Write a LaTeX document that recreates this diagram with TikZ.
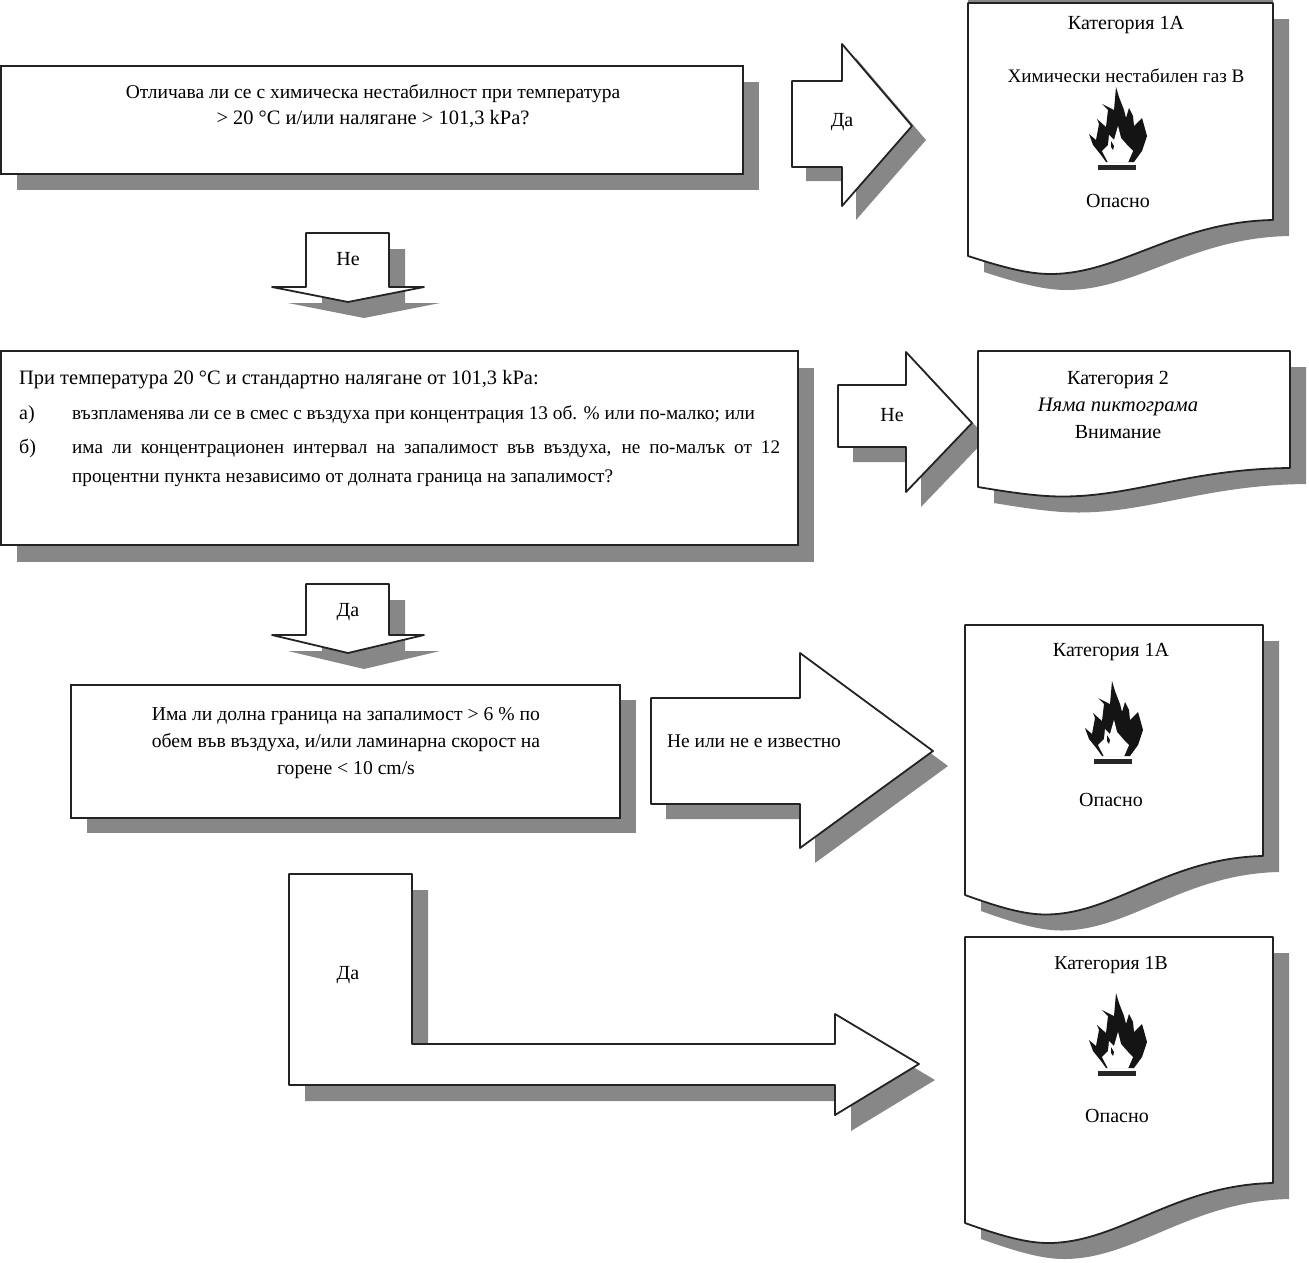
\documentclass[tikz,border=0pt]{standalone}
\usepackage{fontspec}
\setmainfont{Liberation Serif}
\definecolor{shadowgray}{RGB}{135,135,135}
\definecolor{inkline}{RGB}{35,35,35}
\tikzset{
  x=1pt,y=-1pt,
  shadowfill/.style={fill=shadowgray,draw=none},
  shapeline/.style={draw=inkline,line width=1.8pt,fill=white,line join=round},
  label/.style={inner sep=0pt,align=center,font=\fontsize{20}{27}\selectfont,text=black},
  fsz/.style 2 args={font=\fontsize{#1}{#2}\selectfont},
  boxnode/.style={draw=inkline,line width=1.8pt,fill=white,inner sep=0pt,outer sep=0pt,anchor=north west},
  boxshadow/.style={fill=shadowgray,inner sep=0pt,outer sep=0pt,anchor=north west},
  flameink/.style={fill=black!92,draw=none},
}
\newcommand{\docshape}[5]{% x1 ytop x2 yleft yright
  \pgfmathsetmacro{\wdd}{#3-#1}\pgfmathsetmacro{\hdd}{#4-#5}
  \pgfmathsetmacro{\cax}{#1+0.68*\wdd}\pgfmathsetmacro{\cay}{#5+0.05*\hdd}
  \pgfmathsetmacro{\cbx}{#1+0.5*\wdd}\pgfmathsetmacro{\cby}{#5+1.5*\hdd}
  \pgfmathsetmacro{\tx}{#1+0.27*\wdd}
  \pgfmathsetmacro{\ccx}{#1+0.2*\wdd}
  \pgfmathsetmacro{\cdx}{#1+0.12*\wdd}\pgfmathsetmacro{\cdy}{#5+1.33*\hdd}
  \fill[shadowfill,shift={(16,16)}] (#1,#2) -- (#3,#2) -- (#3,#5)
  .. controls (\cax,\cay) and (\cbx,\cby) .. (\tx,\cby)
  .. controls (\ccx,\cby) and (\cdx,\cdy) .. (#1,#4) -- cycle;
  \draw[shapeline] (#1,#2) -- (#3,#2) -- (#3,#5)
  .. controls (\cax,\cay) and (\cbx,\cby) .. (\tx,\cby)
  .. controls (\ccx,\cby) and (\cdx,\cdy) .. (#1,#4) -- cycle;}
\newcommand{\flame}[2]{%
  \begin{scope}[shift={(#1,#2)}]
   \fill[flameink] (-11,-5) -- (-16,-12) -- (-24,-22) -- (-28,-33) -- (-21,-27) -- (-18,-43) -- (-20,-48) -- (-11,-40) -- (-9,-57) -- (-15,-63) -- (-3,-57) -- (-1,-80) -- (2,-70) -- (7,-57) -- (9,-49) -- (12,-59) -- (16,-51) -- (17,-41) -- (25,-49) -- (27,-42) -- (30,-31) -- (25,-16) -- (17,-5) -- cycle;
   \fill[white] (-9,-4.5) -- (-15,-16) -- (-9,-22) -- (-8,-32) -- (-3,-27) -- (1,-41) -- (4,-29) -- (11,-21) -- (16,-16) -- (11,-4.5) -- cycle;
   \fill[flameink] (-6,-26) -- (-3,-21) -- (-4,-17) -- (-6,-20) -- cycle;
   \fill[black!85] (-19,-2) rectangle (19,3);
  \end{scope}}
\newcommand{\blockarrow}[2]{% shadow offset, path
  \fill[shadowfill,shift={(#1,#1)}] #2 -- cycle;
  \draw[shapeline] #2 -- cycle;}
\begin{document}
\begin{tikzpicture}
\useasboundingbox (0,0) rectangle (1309,1262);
% question boxes
\node[boxshadow,minimum width=742pt,minimum height=108pt] (q1s) at (17,82) {};
\node[boxnode,minimum width=742pt,minimum height=108pt] (q1) at (1,66) {};
\node[label,fsz={19.5}{26}] (q1t) at (373,106) {Отличава ли се с химическа нестабилност при температура\\{\fontsize{20.45}{26}\selectfont > 20 °C и/или налягане > 101,3 kPa?}};
\node[boxshadow,minimum width=797pt,minimum height=194pt] (q2s) at (17,368) {};
\node[boxnode,minimum width=797pt,minimum height=194pt] (q2) at (1,351) {};
\node[label,anchor=west,fsz={20.45}{27}] (q2a) at (19,380) {При температура 20 °C и стандартно налягане от 101,3 kPa:};
\node[label,anchor=west] (q2b) at (19,415) {а)};
\node[label,anchor=west,fsz={19.3}{27}] (q2c) at (72,415) {възпламенява ли се в смес с въздуха при концентрация 13 об. \% или по-малко; или};
\node[label,anchor=west] (q2d) at (19,448) {б)};
\node[label,anchor=north west,text width=708pt,align=justify,fsz={19.2}{29}] (q2e) at (72,441) {има ли концентрационен интервал на запалимост във въздуха, не по-малък от 12 процентни пункта независимо от долната граница на запалимост?};
\node[boxshadow,minimum width=549pt,minimum height=133pt] (q3s) at (87,700) {};
\node[boxnode,minimum width=549pt,minimum height=133pt] (q3) at (71,685) {};
\node[label,fsz={19.65}{27}] (q3t) at (346,743) {Има ли долна граница на запалимост > 6 \% по\\обем във въздуха, и/или ламинарна скорост на\\горене < 10 cm/s};
% block arrows
\blockarrow{14}{(792,81) -- (842,81) -- (842,44) -- (912,126) -- (842,206) -- (842,167) -- (792,167)}
\node[label] (a1) at (842,122) {Да};
\blockarrow{15}{(838,385) -- (906,385) -- (906,352) -- (972,423) -- (906,492) -- (906,447) -- (838,447)}
\node[label] (a2) at (892,415) {Не};
\blockarrow{15}{(651,698) -- (800,698) -- (800,653) -- (933,751) -- (800,848) -- (800,804) -- (651,804)}
\node[label,fsz={19.45}{27}] (a3) at (754,741) {Не или не е известно};
\blockarrow{16}{(306,233) -- (389,233) -- (389,287) -- (424,287) -- (348,302) -- (272,287) -- (306,287)}
\node[label] (d1) at (348,259) {Не};
\blockarrow{16}{(306,584) -- (389,584) -- (389,635) -- (424,635) -- (348,653) -- (272,635) -- (306,635)}
\node[label] (d2) at (348,612) {Да};
\blockarrow{16}{(289,874) -- (412,874) -- (412,1044) -- (835,1044) -- (835,1014) -- (919,1064) -- (835,1115) -- (835,1085) -- (289,1085) }
\node[label] (b1) at (348,975) {Да};
% documents
\fill[shadowgray] (968,0) rectangle (1273,3);
\docshape{968}{3}{1273}{256}{220}
\node[label] (c1) at (1126,25) {Категория 1А};
\node[label,fsz={19.1}{27}] (c1b) at (1126,76) {Химически нестабилен газ B};
\flame{1117}{167}
\node[label] (c1c) at (1118,201) {Опасно};
\docshape{978}{351}{1290}{487}{468}
\node[label] (c2) at (1118,380) {Категория 2};
\node[label,fsz={20.6}{27}] (c2b) at (1118,407) {\itshape Няма пиктограма};
\node[label] (c2c) at (1118,432) {Внимание};
\docshape{965}{625}{1263}{895}{856}
\node[label] (c3) at (1111,652) {Категория 1А};
\flame{1113}{761}
\node[label] (c3c) at (1111,800) {Опасно};
\docshape{965}{937}{1273}{1223}{1183}
\node[label,fsz={19.7}{27}] (c4) at (1111,965) {Категория 1В};
\flame{1117}{1073}
\node[label] (c4c) at (1117,1116) {Опасно};
\end{tikzpicture}
\end{document}
